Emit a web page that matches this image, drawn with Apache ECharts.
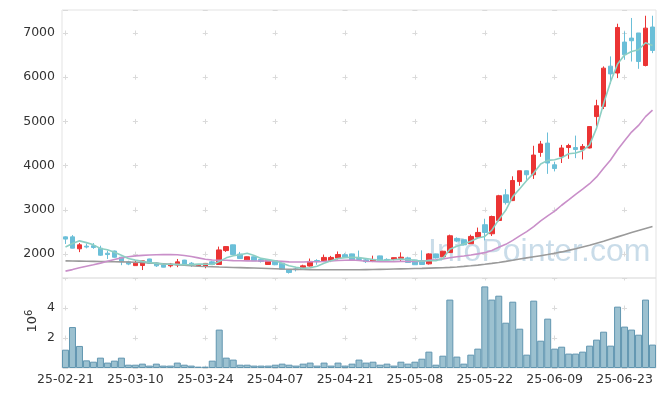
<!DOCTYPE html>
<html><head><meta charset="utf-8">
<script src="https://cdn.jsdelivr.net/npm/echarts/dist/echarts.min.js"></script>
<style>html,body{margin:0;padding:0;background:#fff}#c{width:665px;height:396px}</style>
</head><body><div id="c"></div>
<script>
const dates = ['25-02-21','25-02-24','25-02-25','25-02-26','25-02-27','25-02-28',
'25-03-04','25-03-05','25-03-06','25-03-07','25-03-10','25-03-11','25-03-12','25-03-13','25-03-14','25-03-17','25-03-18','25-03-19','25-03-20','25-03-21','25-03-24','25-03-25','25-03-26','25-03-27','25-03-28','25-03-31',
'25-04-01','25-04-02','25-04-03','25-04-04','25-04-07','25-04-08','25-04-09','25-04-10','25-04-11','25-04-14','25-04-15','25-04-16','25-04-17','25-04-18','25-04-21','25-04-22','25-04-23','25-04-24','25-04-25','25-04-28','25-04-29','25-04-30',
'25-05-02','25-05-07','25-05-08','25-05-09','25-05-12','25-05-13','25-05-14','25-05-15','25-05-16','25-05-19','25-05-20','25-05-21','25-05-22','25-05-23','25-05-26','25-05-27','25-05-28','25-05-29','25-05-30',
'25-06-02','25-06-04','25-06-05','25-06-09','25-06-10','25-06-11','25-06-12','25-06-13','25-06-16','25-06-17','25-06-18','25-06-19','25-06-20','25-06-23','25-06-24','25-06-25','25-06-26','25-06-27'];

const opens = [2390,2390,2120,2180,2190,2135,2020,2070,1930,1825,1740,1742,1890,1800,1755,1735,1755,1865,1795,1735,
1720,1825,1765,2080,2210,2000,1870,1940,1880,1765,1850,1795,1645,1665,1665,1730,1855,1850,1855,1910,
1985,2005,1900,1870,1845,1960,1880,1880,1905,1915,1865,1855,1780,2005,1940,2035,2355,2325,2235,2385,
2665,2460,2760,3340,3210,3640,3885,3795,4300,4510,4020,4210,4410,4410,4360,4400,5110,5340,6250,6095,
6795,6885,7000,6265,7135];
const closes = [2340,2135,2210,2160,2150,1975,1990,1930,1830,1775,1795,1848,1795,1735,1705,1775,1825,1765,1745,1760,
1790,1765,2095,2170,1990,1900,1940,1850,1835,1855,1760,1660,1585,1650,1735,1835,1830,1925,1925,1990,
1935,1870,1880,1830,1880,1855,1870,1920,1930,1810,1760,1765,2005,1915,2065,2415,2295,2210,2400,2490,
2490,2850,3320,3165,3665,3885,3795,4240,4490,4060,3935,4400,4455,4365,4435,4885,5355,6205,6075,7125,
6510,6825,6355,7110,6605];
const lows = [2230,2130,2045,2130,2120,1960,1890,1920,1750,1750,1740,1640,1780,1710,1700,1700,1705,1760,1710,1730,
1680,1760,1765,2050,1985,1895,1860,1845,1810,1760,1750,1655,1560,1610,1660,1720,1760,1820,1820,1880,
1930,1865,1850,1800,1820,1850,1850,1860,1840,1800,1755,1760,1765,1900,1935,2030,2270,2200,2230,2370,
2310,2410,2740,3120,3200,3545,3680,3700,4200,3815,3870,4060,4155,4170,4140,4390,4900,5280,5850,5980,
6395,6355,6190,6245,6545];
const highs = [2400,2430,2250,2240,2250,2190,2080,2080,1940,1850,1850,1850,1895,1810,1760,1800,1890,1870,1820,1770,
1800,1850,2170,2175,2215,2050,1945,1945,1900,1860,1860,1800,1650,1690,1760,1900,1885,1990,1960,2060,
2020,2010,2080,1900,1965,1965,1905,1925,2040,1940,1870,2085,2020,2010,2075,2440,2380,2330,2440,2600,
2800,2870,3340,3470,3760,3885,3890,4450,4560,4750,4090,4470,4495,4680,4490,4890,5490,6245,6470,7210,
7035,7340,7000,7390,7390];
const maShort = [2160,2240,2300,2260,2210,2126,2097,2041,1975,1900,1864,1836,1809,1790,1776,1772,1767,1761,1763,1774,
1777,1765,1831,1916,1962,1984,2019,1970,1903,1876,1848,1792,1739,1702,1678,1693,1727,1795,1850,1901,
1921,1929,1920,1901,1879,1863,1863,1871,1891,1877,1858,1837,1854,1851,1902,2110,2180,2230,2290,2365,
2400,2540,2780,2990,3300,3480,3665,3832,4036,4120,4133,4180,4269,4285,4340,4470,4850,5400,5900,6300,
6500,6580,6620,6780,6720];
const maMid = [1615,1650,1690,1725,1760,1796,1840,1880,1915,1940,1960,1972,1980,1985,1988,1988,1985,1970,1945,1915,
1885,1866,1860,1861,1853,1849,1847,1843,1843,1847,1845,1836,1825,1821,1823,1826,1826,1834,1843,1854,
1862,1867,1856,1839,1834,1831,1828,1831,1836,1834,1834,1839,1860,1873,1890,1919,1942,1956,1980,2005,
2033,2082,2154,2221,2310,2411,2508,2624,2752,2864,2973,3105,3227,3350,3468,3592,3745,3944,4128,4360,
4561,4760,4911,5109,5256];
const maLong = [1848,1845,1842,1839,1836,1833,1830,1827,1824,1821,1817,1810,1800,1790,1780,1770,1760,1748,1737,1727,
1720,1714,1708,1703,1698,1694,1690,1686,1680,1674,1668,1662,1658,1655,1652,1650,1648,1647,1646,1645,
1645,1646,1648,1650,1652,1655,1658,1662,1666,1670,1674,1678,1683,1688,1693,1700,1710,1722,1736,1752,
1770,1790,1812,1836,1862,1890,1915,1940,1965,1990,2020,2050,2085,2120,2160,2200,2245,2290,2340,2390,
2440,2490,2535,2580,2625];
const volumes = [1.22,2.73,1.47,0.51,0.42,0.69,0.36,0.49,0.69,0.22,0.22,0.29,0.16,0.29,0.16,0.16,0.36,0.22,0.16,0.09,
0.09,0.49,2.56,0.69,0.56,0.22,0.22,0.16,0.16,0.16,0.22,0.29,0.22,0.16,0.29,0.36,0.16,0.36,0.16,0.36,
0.16,0.29,0.56,0.36,0.42,0.22,0.29,0.16,0.42,0.29,0.42,0.62,1.09,0.22,0.82,4.56,0.76,0.29,0.89,1.29,
5.44,4.56,4.82,3.02,4.42,2.62,0.89,4.49,1.82,3.29,1.29,1.42,0.96,0.96,1.09,1.49,1.89,2.42,1.49,4.09,
2.76,2.56,2.22,4.56,1.56];

const labelEvery = 10;
const candleData = opens.map((o, i) => [o, closes[i], lows[i], highs[i]]);

const GL = 62, GW = 594, GT = 10, GH = 268, VT = 278, VH = 90;
const YMIN = 1460, YMAX = 7520;
const band = GW / dates.length;
const per = band * labelEvery;
const crossColor = '#dadada';
const hDash = { type: [5, per - 5], dashOffset: per - (band / 2 - 2.5), color: crossColor, width: 1 };
const yPer = GH / (YMAX - YMIN) * 1000;
const vDash = { type: [5, yPer - 5], dashOffset: yPer - ((YMAX - 7000) / (YMAX - YMIN) * GH - 2.5), color: crossColor, width: 1 };
const font = '"DejaVu Sans", sans-serif';

const chart = echarts.init(document.getElementById('c'));
chart.setOption({
  animation: false,
  backgroundColor: '#fff',
  graphic: [
    { type: 'text', left: 428, top: 236, z: 0, silent: true,
      style: { text: 'InfoPointer.com', font: '32px "Liberation Sans", Arial, sans-serif', fill: 'rgba(165,196,218,0.6)' } },
    { type: 'text', x: 33, y: 321, rotation: Math.PI / 2, silent: true,
      style: { text: '{a|10}{b|6}', align: 'center', verticalAlign: 'middle',
        rich: { a: { fontSize: 13, fontFamily: font, fill: '#333' }, b: { fontSize: 10, fontFamily: font, fill: '#333', verticalAlign: 'top', padding: [0,0,8,0] } } } }
  ],
  grid: [
    { left: GL, width: GW, top: GT, height: GH, show: true, borderColor: '#e3e3e3', borderWidth: 1 },
    { left: GL, width: GW, top: VT, height: VH, show: true, borderColor: '#e3e3e3', borderWidth: 1 }
  ],
  xAxis: [
    { type: 'category', gridIndex: 0, data: dates, boundaryGap: true,
      axisLine: { show: false }, axisTick: { show: false }, axisLabel: { show: false },
      splitLine: { show: true, alignWithLabel: true, interval: (i) => i % labelEvery === 0, lineStyle: vDash } },
    { type: 'category', gridIndex: 1, data: dates, boundaryGap: true,
      axisLine: { show: false }, axisTick: { show: false },
      axisLabel: { interval: (i) => i % labelEvery === 0, margin: 5, fontSize: 12.5, fontFamily: font, color: '#333' },
      splitLine: { show: true, alignWithLabel: true, interval: (i) => i % labelEvery === 0,
        lineStyle: { type: [5, 25], dashOffset: 2.5, color: crossColor, width: 1 } } }
  ],
  yAxis: [
    { type: 'value', gridIndex: 0, min: YMIN, max: YMAX, splitNumber: 5,
      axisLine: { show: false }, axisTick: { show: false },
      axisLabel: { showMinLabel: false, showMaxLabel: false, margin: 7, fontSize: 12.5, fontFamily: font, color: '#333',
        formatter: (v) => String(v) },
      splitLine: { show: true, lineStyle: hDash } },
    { type: 'value', gridIndex: 1, min: 0, max: 6, interval: 2,
      axisLine: { show: false }, axisTick: { show: false },
      axisLabel: { showMinLabel: false, showMaxLabel: false, margin: 7, fontSize: 12.5, fontFamily: font, color: '#333',
        formatter: (v) => String(v) },
      splitLine: { show: true, lineStyle: hDash } }
  ],
  series: [
    { type: 'candlestick', xAxisIndex: 0, yAxisIndex: 0, data: candleData, barWidth: 5,
      itemStyle: { color: '#eb3434', color0: '#6bbfd8', borderColor: '#eb3434', borderColor0: '#6bbfd8', borderWidth: 1 } },
    { type: 'line', xAxisIndex: 0, yAxisIndex: 0, data: maLong, showSymbol: false, z: 3,
      lineStyle: { color: '#9a9a9a', width: 1.6 } },
    { type: 'line', xAxisIndex: 0, yAxisIndex: 0, data: maMid, showSymbol: false, z: 3,
      lineStyle: { color: '#c98fc9', width: 1.6 } },
    { type: 'line', xAxisIndex: 0, yAxisIndex: 0, data: maShort, showSymbol: false, z: 3,
      lineStyle: { color: '#8dcfc3', width: 1.6 } },
    { type: 'bar', xAxisIndex: 1, yAxisIndex: 1, data: volumes, barCategoryGap: '0%',
      itemStyle: { color: '#9cc1d0', borderColor: '#6196b0', borderWidth: 1 } }
  ]
});
</script>
</body></html>
